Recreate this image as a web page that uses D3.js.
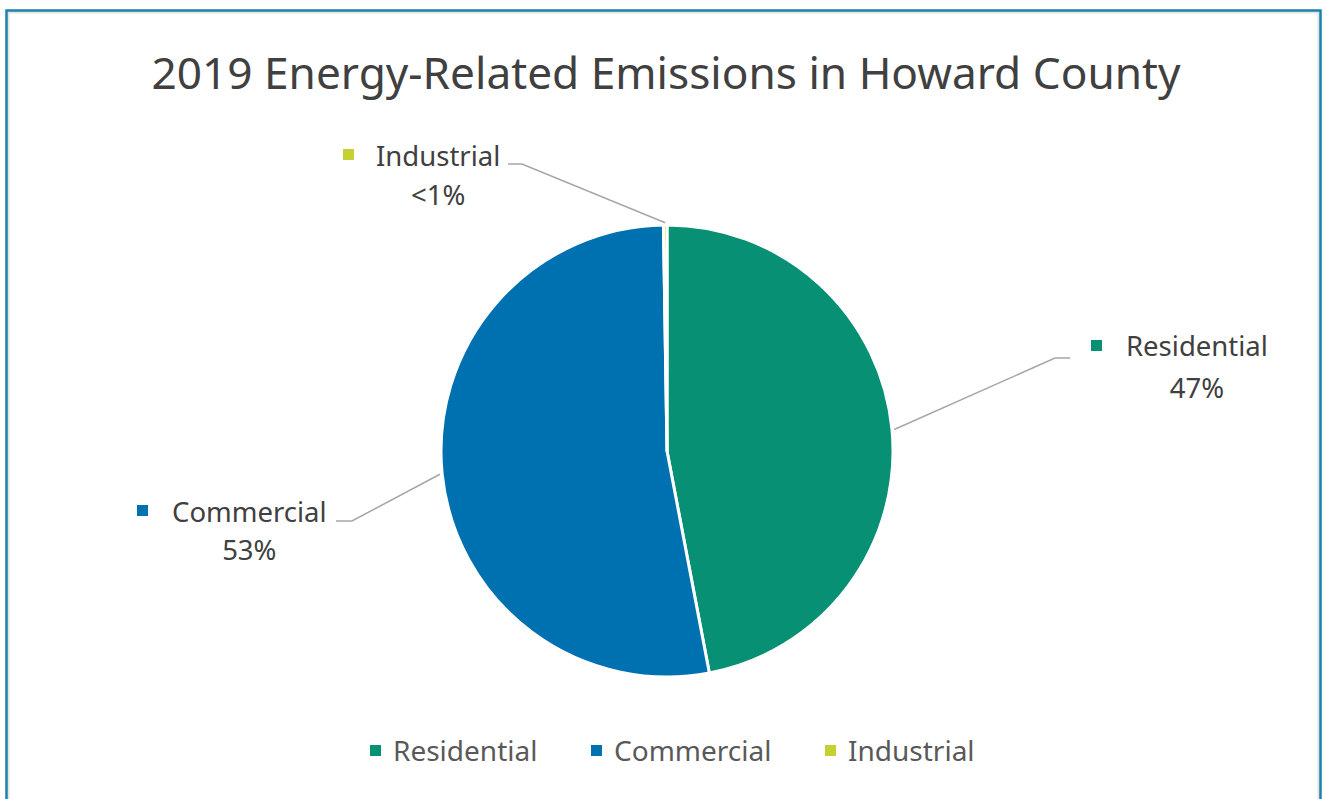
<!DOCTYPE html>
<html>
<head>
<meta charset="utf-8">
<script src="https://cdn.jsdelivr.net/npm/d3@7"></script>
<style>
  html, body { margin: 0; padding: 0; background: #ffffff; }
  svg { display: block; }
</style>
</head>
<body>
<svg id="chart" width="1327" height="799"></svg>
<script>
// ---- data ----
const categories = ["Residential", "Commercial", "Industrial"];
const values = [47.0, 52.75, 0.25];
const valueLabels = ["47%", "53%", "<1%"];
const colors = ["#079073", "#0071b0", "#c5d032"];
const title = "2019 Energy-Related Emissions in Howard County";

// ---- layout ----
const W = 1327, H = 799;
const cx = 667, cy = 451, R = 226;
const font = "'Noto Sans', 'Open Sans', sans-serif";
const textColor = "#404040";

const svg = d3.select("#chart");

// frame
svg.append("rect").attr("x", 0).attr("y", 0).attr("width", W).attr("height", H).attr("fill", "#fff");
svg.append("rect").attr("x", 8.5).attr("y", 12.5).attr("width", W - 17).attr("height", H)
  .attr("fill", "none").attr("stroke", "#e3e3e3").attr("stroke-width", 2);
svg.append("rect").attr("x", 6.5).attr("y", 10.5).attr("width", W - 13).attr("height", H + 20)
  .attr("fill", "none").attr("stroke", "#1a80ad").attr("stroke-width", 2.5);

// title
svg.append("text")
  .attr("x", 666).attr("y", 89)
  .attr("text-anchor", "middle")
  .attr("font-family", font).attr("font-size", 44.2)
  .attr("fill", textColor)
  .text(title);

// pie
const data = categories.map((c, i) => ({ cat: c, value: values[i], label: valueLabels[i], color: colors[i] }));
const pie = d3.pie().value(d => d.value).sort(null);
const arcs = pie(data);
const arc = d3.arc().innerRadius(0).outerRadius(R);
const edgeArc = d3.arc().innerRadius(R).outerRadius(R);

const g = svg.append("g").attr("transform", `translate(${cx},${cy})`);
g.selectAll("path.slice").data(arcs).enter().append("path")
  .attr("class", "slice")
  .attr("d", arc)
  .attr("fill", d => d.data.color)
  .attr("stroke", "#fff").attr("stroke-width", 3).attr("stroke-linejoin", "round");

// data labels (layout positions)
const labelLayout = {
  Residential: { elbow: [1055, 358], end: [1070, 358], markerX: 1091, markerY: 340, textX: 1126, nameY: 356, pctY: 398 },
  Commercial:  { elbow: [352, 521],  end: [336, 521],  markerX: 137,  markerY: 505, textX: 172,  nameY: 522, pctY: 560 },
  Industrial:  { elbow: [522, 164],  end: [508, 164],  markerX: 343,  markerY: 149, textX: 376,  nameY: 166, pctY: 205 }
};

arcs.forEach(a => {
  const L = labelLayout[a.data.cat];
  const p = edgeArc.centroid(a);
  const start = [cx + p[0] * 1.01, cy + p[1] * 1.01];
  svg.append("polyline")
    .attr("points", [start, L.elbow, L.end].map(q => q.join(",")).join(" "))
    .attr("fill", "none").attr("stroke", "#a6a6a6").attr("stroke-width", 1.5);
  svg.append("rect").attr("x", L.markerX).attr("y", L.markerY)
    .attr("width", 11).attr("height", 11).attr("fill", a.data.color);
  const name = svg.append("text")
    .attr("x", L.textX).attr("y", L.nameY)
    .attr("font-family", font).attr("font-size", 27.5).attr("fill", textColor)
    .text(a.data.cat);
  const w = name.node().getComputedTextLength();
  svg.append("text")
    .attr("x", L.textX + w / 2).attr("y", L.pctY)
    .attr("text-anchor", "middle")
    .attr("font-family", font).attr("font-size", 27.5).attr("fill", textColor)
    .text(a.data.label);
});

// legend
const legendX = [370, 591, 825];
const legend = svg.append("g");
data.forEach((d, i) => {
  legend.append("rect").attr("x", legendX[i]).attr("y", 745)
    .attr("width", 11).attr("height", 11).attr("fill", d.color);
  legend.append("text").attr("x", legendX[i] + 23).attr("y", 761)
    .attr("font-family", font).attr("font-size", 28).attr("fill", "#595959")
    .text(d.cat);
});
</script>
</body>
</html>
